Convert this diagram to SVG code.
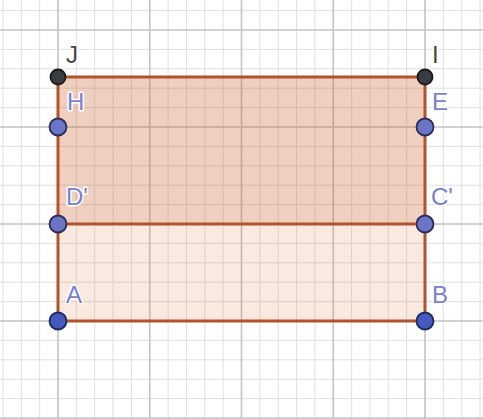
<svg xmlns="http://www.w3.org/2000/svg" width="483" height="419" viewBox="0 0 483 419">
<style>
.minor{stroke:#e0e0e0;stroke-width:1;fill:none}
.major{stroke:#c4c4c4;stroke-width:1.6;fill:none}
.edge{stroke:#b3532b;stroke-width:3;fill:none;stroke-linecap:round}
.pt-dark{fill:#3a3d40;stroke:#1a1a1a;stroke-width:1.8}
.pt-blue{fill:#6b74c6;stroke:#2a2e55;stroke-width:1.8}
.pt-blue2{fill:#4658c2;stroke:#1f2a5a;stroke-width:1.8}
.lbl{font-family:"Liberation Sans",Arial,sans-serif;font-size:24px;stroke:#ffffff;stroke-width:3;paint-order:stroke;stroke-linejoin:round}
.lbl-dark{fill:#454545}
.lbl-blue{fill:#7b7fcc}
</style>
<rect width="483" height="419" fill="#ffffff"/>
<g id="grid">
<path class="minor" d="M2.95 0V419M21.3 0V419M39.65 0V419M76.35 0V419M94.7 0V419M113.05 0V419M131.4 0V419M168.1 0V419M186.45 0V419M204.8 0V419M223.15 0V419M259.85 0V419M278.2 0V419M296.55 0V419M314.9 0V419M351.6 0V419M369.95 0V419M388.3 0V419M406.65 0V419M443.35 0V419M461.7 0V419M480.05 0V419M0 10.6H483M0 49.4H483M0 68.8H483M0 88.2H483M0 107.6H483M0 146.4H483M0 165.8H483M0 185.2H483M0 204.6H483M0 243.4H483M0 262.8H483M0 282.2H483M0 301.6H483M0 340.4H483M0 359.8H483M0 379.2H483M0 398.6H483"/>
<path class="major" d="M58 0V419M149.75 0V419M241.5 0V419M333.25 0V419M425 0V419M0 30H483M0 127H483M0 224H483M0 321H483M0 418H483"/>
</g>
<g id="fills">
<polygon points="58,77 425,77 425,321 58,321" fill="#d9773f" fill-opacity="0.16"/>
<polygon points="58,77 425,77 425,224 58,224" fill="#c25a2c" fill-opacity="0.18"/>
</g>
<g id="connectors">
<line class="edge" x1="58" y1="77" x2="425" y2="77"/>
<line class="edge" x1="58" y1="224" x2="425" y2="224"/>
<line class="edge" x1="58" y1="321" x2="425" y2="321"/>
<line class="edge" x1="58" y1="77" x2="58" y2="321"/>
<line class="edge" x1="425" y1="77" x2="425" y2="321"/>
</g>
<g id="J"><circle class="pt-dark" cx="58" cy="77" r="7.5"/><text class="lbl lbl-dark" x="66" y="63">J</text></g>
<g id="I"><circle class="pt-dark" cx="425" cy="77" r="7.5"/><text class="lbl lbl-dark" x="432" y="63">I</text></g>
<g id="H"><circle class="pt-blue" cx="58" cy="127" r="8.5"/><text class="lbl lbl-blue" x="67" y="110">H</text></g>
<g id="E"><circle class="pt-blue" cx="425" cy="127" r="8.5"/><text class="lbl lbl-blue" x="432" y="110">E</text></g>
<g id="D_prime"><circle class="pt-blue" cx="58" cy="224" r="8.5"/><text class="lbl lbl-blue" x="66" y="205">D'</text></g>
<g id="C_prime"><circle class="pt-blue" cx="425" cy="224" r="8.5"/><text class="lbl lbl-blue" x="431" y="205">C'</text></g>
<g id="A"><circle class="pt-blue2" cx="58" cy="321" r="8.5"/><text class="lbl lbl-blue" x="66" y="303">A</text></g>
<g id="B"><circle class="pt-blue2" cx="425" cy="321" r="8.5"/><text class="lbl lbl-blue" x="432" y="303">B</text></g>
</svg>
